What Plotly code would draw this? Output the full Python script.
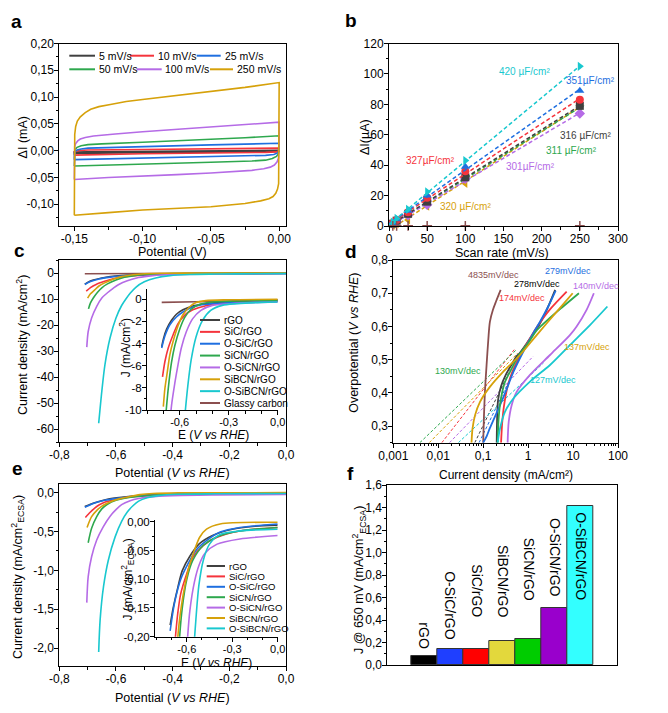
import numpy as np
import plotly.graph_objects as go

# page body margin shifts the figure by 8 px; figure is sized so the window shows it whole
OFF = 8
W, H = 660, 705
FONT = "Liberation Sans, Arial, sans-serif"

# ---------------- colours per material ----------------
materials = ["rGO", "SiC/rGO", "O-SiC/rGO", "SiCN/rGO", "O-SiCN/rGO", "SiBCN/rGO", "O-SiBCN/rGO", "Glassy carbon"]
mat_colors = ["#404040", "#f5343c", "#1f6fe0", "#2ea84e", "#b56be6", "#d6a10a", "#19c8cf", "#8b4f4f"]

# ---------------- panel a : CV loops ----------------
cv_labels = ["5 mV/s", "10 mV/s", "25 mV/s", "50 mV/s", "100 mV/s", "250 mV/s"]
cv_colors = ["#404040", "#f5343c", "#1f6fe0", "#2ea84e", "#b56be6", "#d6a10a"]
cv5_V = [-0.15, -0.15, -0.14, -0.10, -0.05, 0.0, 0.0, -0.01, -0.05, -0.10, -0.15]
cv5_I = [-0.0055, -0.003, -0.0025, -0.002, -0.001, 0.0005, -0.0015, -0.002, -0.003, -0.004, -0.0055]
cv10_V = [-0.15, -0.15, -0.146, -0.14, -0.10, -0.05, 0.0, 0.0, -0.002, -0.01, -0.05, -0.10, -0.15]
cv10_I = [-0.0085, -0.002, 0.0, 0.001, 0.002, 0.003, 0.0045, 0.0, -0.0025, -0.0035, -0.0045, -0.006, -0.0085]
cv25_V = [-0.15, -0.15, -0.148, -0.145, -0.14, -0.10, -0.05, 0.0, 0.0, -0.001, -0.004, -0.01, -0.05, -0.10, -0.15]
cv25_I = [-0.017, -0.003, 0.001, 0.003, 0.0045, 0.0075, 0.0105, 0.0135, 0.0, -0.0045, -0.0075, -0.009, -0.0115, -0.0145, -0.017]
cv50_V = [-0.15, -0.15, -0.1495, -0.148, -0.145, -0.14, -0.13, -0.10, -0.075, -0.05, -0.025, 0.0, 0.0,
          -0.0005, -0.002, -0.005, -0.01, -0.02, -0.05, -0.075, -0.10, -0.125, -0.15]
cv50_I = [-0.029, -0.005, 0.002, 0.006, 0.009, 0.011, 0.0125, 0.0155, 0.018, 0.0205, 0.024, 0.0275, 0.0,
          -0.006, -0.011, -0.015, -0.018, -0.0195, -0.022, -0.024, -0.026, -0.0275, -0.029]
cv100_V = [-0.15, -0.15, -0.1497, -0.149, -0.1475, -0.1456, -0.142, -0.136, -0.131, -0.12, -0.10, -0.075, -0.05,
           -0.025, 0.0, 0.0, 0.0, -0.0005, -0.0015, -0.0035, -0.0065, -0.0113, -0.02, -0.0333, -0.05, -0.075,
           -0.10, -0.125, -0.15]
cv100_I = [-0.054, 0.0, 0.008, 0.013, 0.018, 0.0215, 0.0245, 0.0272, 0.0287, 0.031, 0.035, 0.0395, 0.044,
           0.0485, 0.053, 0.02, -0.005, -0.014, -0.021, -0.027, -0.031, -0.034, -0.037, -0.0395, -0.042, -0.045,
           -0.0475, -0.0505, -0.054]
cv250_V = [-0.15, -0.15, -0.15, -0.1497, -0.149, -0.1478, -0.1456, -0.142, -0.138, -0.132, -0.1236, -0.112, -0.10,
           -0.075, -0.05, -0.025, 0.0, 0.0, 0.0, 0.0, -0.0004, -0.0012, -0.0025, -0.0045, -0.0075, -0.0136, -0.025,
           -0.05, -0.075, -0.10, -0.125, -0.15]
cv250_I = [-0.121, -0.06, 0.0, 0.03, 0.045, 0.055, 0.063, 0.071, 0.077, 0.082, 0.086, 0.0915, 0.0955, 0.103, 0.110,
           0.118, 0.127, 0.06, 0.0, -0.045, -0.062, -0.072, -0.080, -0.086, -0.090, -0.094, -0.099, -0.105, -0.108,
           -0.111, -0.116, -0.121]
cv_V = [cv5_V, cv10_V, cv25_V, cv50_V, cv100_V, cv250_V]
cv_I = [cv5_I, cv10_I, cv25_I, cv50_I, cv100_I, cv250_I]

# ---------------- panel b : double-layer capacitance ----------------
scan_rate = [5, 10, 25, 50, 100, 250]
dI_rGO = [1.5, 3.5, 8, 16, 32, 79]
dI_SiC = [2, 4, 9, 18.5, 36, 83]
dI_OSiC = [2, 4.5, 10, 20, 39, 89]
dI_SiCN = [1.5, 3, 7.5, 15, 31, 78]
dI_OSiCN = [1.5, 3, 7, 14, 31, 74]
dI_SiBCN = [0.5, 1.5, 4, 13, 28, 79]
dI_OSiBCN = [2.5, 5, 11, 22.5, 43, 105]
dI_GC = [0.1, 0.1, 0.1, 0.1, 0.1, 0.1]
b_series = [dI_rGO, dI_SiC, dI_OSiC, dI_SiCN, dI_OSiCN, dI_SiBCN, dI_OSiBCN, dI_GC]
b_symbols = ["square", "circle", "triangle-up", "triangle-down", "diamond", "triangle-left", "triangle-right", "cross-thin"]
cdl_labels = ["316 µF/cm²", "327µF/cm²", "351µF/cm²", "311 µF/cm²", "301µF/cm²", "320 µF/cm²", "420 µF/cm²"]

# ---------------- panel c : LSV (mA/cm2) ----------------
c_E = [
    [-0.71, -0.70, -0.68, -0.65, -0.62, -0.58, -0.52, -0.44, -0.32, -0.15, 0.0],
    [-0.705, -0.69, -0.67, -0.64, -0.61, -0.57, -0.52, -0.44, -0.31, -0.15, 0.0],
    [-0.71, -0.69, -0.66, -0.62, -0.58, -0.52, -0.44, -0.31, -0.15, 0.0],
    [-0.697, -0.69, -0.68, -0.665, -0.65, -0.63, -0.60, -0.57, -0.53, -0.48, -0.40, -0.2, 0.0],
    [-0.703, -0.698, -0.686, -0.668, -0.65, -0.63, -0.61, -0.59, -0.56, -0.52, -0.47, -0.40, -0.29, -0.15, 0.0],
    [-0.70, -0.69, -0.675, -0.66, -0.64, -0.61, -0.58, -0.54, -0.50, -0.44, -0.3, 0.0],
    [-0.661, -0.65, -0.639, -0.621, -0.60, -0.58, -0.565, -0.55, -0.53, -0.50, -0.46, -0.41, -0.34, -0.25, -0.1, 0.0],
    [-0.71, -0.5, -0.3, -0.1, 0.0],
]
c_J = [
    [-4.3, -3.6, -2.7, -1.9, -1.35, -0.95, -0.6, -0.4, -0.25, -0.15, -0.1],
    [-7.0, -5.6, -4.4, -3.2, -2.2, -1.45, -0.95, -0.58, -0.35, -0.25, -0.18],
    [-4.4, -3.3, -2.3, -1.6, -1.15, -0.7, -0.45, -0.33, -0.25, -0.2],
    [-13.8, -11.5, -9.6, -7.4, -5.7, -4.2, -2.7, -1.65, -0.9, -0.47, -0.25, -0.15, -0.12],
    [-28.5, -22.5, -17.3, -12.8, -9.6, -7.6, -5.9, -4.4, -2.96, -1.75, -1.0, -0.55, -0.4, -0.3, -0.25],
    [-9.7, -8.0, -6.5, -5.0, -3.8, -2.4, -1.4, -0.7, -0.3, -0.12, -0.05, 0.0],
    [-57.8, -45.5, -35.3, -25.0, -17.3, -12.5, -10.0, -7.8, -5.5, -3.4, -1.9, -1.0, -0.55, -0.4, -0.28, -0.25],
    [-0.28, -0.22, -0.15, -0.08, -0.05],
]

# ---------------- panel d : Tafel ----------------
d_j = [
    [0.20, 0.205, 0.215, 0.25, 0.32, 0.45, 0.55, 0.65, 1.0, 1.6, 2.5, 4.0],
    [0.25, 0.265, 0.29, 0.35, 0.45, 0.65, 1.0, 1.6, 3.0, 7.2],
    [0.10, 0.12, 0.14, 0.237, 0.33, 0.47, 0.93, 1.3, 1.84, 2.8, 4.1],
    [0.21, 0.22, 0.24, 0.30, 0.42, 0.6, 1.0, 1.6, 3.0, 6.0, 13.5],
    [0.35, 0.37, 0.43, 0.556, 1.1, 3.07, 8.5, 12.0, 20.0, 29.0],
    [0.055, 0.058, 0.066, 0.085, 0.141, 0.28, 0.66, 1.55, 4.3, 9.8],
    [0.21, 0.237, 0.305, 0.47, 1.1, 3.07, 8.5, 23.8, 58.0],
    [0.10, 0.104, 0.11, 0.119, 0.13, 0.141, 0.165, 0.193, 0.245],
]
d_eta = [
    [0.25, 0.33, 0.38, 0.42, 0.455, 0.49, 0.51, 0.52, 0.555, 0.595, 0.645, 0.71],
    [0.25, 0.31, 0.36, 0.42, 0.465, 0.51, 0.555, 0.60, 0.65, 0.705],
    [0.25, 0.27, 0.293, 0.363, 0.41, 0.463, 0.544, 0.58, 0.614, 0.66, 0.708],
    [0.25, 0.32, 0.37, 0.43, 0.47, 0.51, 0.55, 0.59, 0.625, 0.66, 0.70],
    [0.25, 0.313, 0.363, 0.403, 0.454, 0.514, 0.574, 0.60, 0.65, 0.70],
    [0.25, 0.293, 0.333, 0.373, 0.418, 0.464, 0.514, 0.574, 0.644, 0.70],
    [0.25, 0.293, 0.343, 0.383, 0.434, 0.484, 0.544, 0.604, 0.66],
    [0.25, 0.33, 0.41, 0.484, 0.56, 0.614, 0.65, 0.675, 0.71],
]
# Tafel fit lines (start current at 0.25 V, end current, end overpotential)
fit_j0 = [0.065, 0.012, 0.081, 0.0039, 0.0178, 0.0063, 0.028]
fit_j1 = [0.40, 0.49, 0.50, 0.55, 1.3, 0.59, 2.2]
fit_eta1 = [0.47, 0.53, 0.47, 0.53, 0.51, 0.52, 0.49]
tafel_labels = ["278mV/dec", "174mV/dec", "279mV/dec", "130mV/dec", "140mV/dec", "137mV/dec", "127mV/dec", "4835mV/dec"]

# ---------------- panel e : LSV normalised by ECSA ----------------
e_E = [
    [-0.71, -0.69, -0.66, -0.63, -0.58, -0.52, -0.43, -0.3, -0.15, 0.0],
    [-0.708, -0.69, -0.675, -0.66, -0.64, -0.60, -0.56, -0.49, -0.40, -0.25, 0.0],
    [-0.71, -0.68, -0.64, -0.59, -0.54, -0.47, -0.38, -0.25, 0.0],
    [-0.698, -0.686, -0.668, -0.65, -0.63, -0.60, -0.56, -0.49, -0.40, -0.25, 0.0],
    [-0.703, -0.698, -0.686, -0.668, -0.645, -0.62, -0.60, -0.58, -0.55, -0.52, -0.48, -0.40, -0.25, 0.0],
    [-0.702, -0.686, -0.665, -0.652, -0.635, -0.612, -0.585, -0.55, -0.515, -0.47, -0.38, 0.0],
    [-0.661, -0.656, -0.644, -0.627, -0.603, -0.58, -0.56, -0.54, -0.52, -0.49, -0.45, -0.38, -0.25, 0.0],
]
e_J = [
    [-0.18, -0.15, -0.115, -0.085, -0.06, -0.039, -0.024, -0.013, -0.008, -0.006],
    [-0.32, -0.25, -0.2, -0.16, -0.125, -0.09, -0.062, -0.041, -0.027, -0.016, -0.01],
    [-0.19, -0.14, -0.1, -0.072, -0.05, -0.033, -0.018, -0.01, -0.004],
    [-0.645, -0.46, -0.31, -0.21, -0.15, -0.1, -0.067, -0.041, -0.026, -0.016, -0.01],
    [-1.415, -1.08, -0.826, -0.61, -0.44, -0.3, -0.22, -0.155, -0.105, -0.076, -0.055, -0.039, -0.03, -0.024],
    [-0.45, -0.31, -0.22, -0.18, -0.145, -0.11, -0.078, -0.05, -0.027, -0.013, -0.004, -0.001],
    [-2.05, -1.64, -1.21, -0.87, -0.57, -0.37, -0.25, -0.17, -0.11, -0.066, -0.039, -0.022, -0.016, -0.013],
]

# ---------------- panel f : bars ----------------
f_labels = ["rGO", "O-SiC/rGO", "SiC/rGO", "SiBCN/rGO", "SiCN/rGO", "O-SiCN/rGO", "O-SiBCN/rGO"]
f_values = [0.083, 0.142, 0.145, 0.213, 0.228, 0.509, 1.416]
f_colors = ["#000000", "#1f3fff", "#ff0000", "#e3d83c", "#00cc00", "#9900cc", "#33ffff"]


# =====================================================================
def X(px):
    return (px - OFF) / W


def Y(py):
    return 1 - (py - OFF) / H


def fmt(v, dec):
    s = f"{v:.{dec}f}".replace(".", ",")
    if s.startswith("-") and float(v) == 0:
        s = s[1:]
    return s


def ticks(lo, hi, step, dec):
    vals = np.round(np.arange(lo, hi + step / 2, step), 6)
    return list(vals), [fmt(v, dec) for v in vals]


fig = go.Figure()

# panel a
for lab, col, vv, ii in zip(cv_labels, cv_colors, cv_V, cv_I):
    fig.add_trace(go.Scatter(x=vv, y=ii, mode="lines", line=dict(color=col, width=1.6),
                             name=lab, showlegend=False, xaxis="x", yaxis="y"))

# panel b
order_b = [5, 3, 4, 0, 1, 2, 6, 7]
for k in order_b:
    ys = b_series[k]
    col = mat_colors[k]
    if k < 7:
        slope, icpt = np.polyfit(scan_rate, ys, 1)
        xf = np.array([min(scan_rate) - 5, max(scan_rate)])
        fig.add_trace(go.Scatter(x=xf, y=slope * xf + icpt, mode="lines",
                                 line=dict(color=col, width=1.5, dash="4px,2.5px"),
                                 showlegend=False, xaxis="x2", yaxis="y2"))
    sym = b_symbols[k]
    mk = dict(symbol=sym, size=8, color=col)
    if sym == "cross-thin":
        mk = dict(symbol=sym, size=7, color=col, line=dict(color=col, width=1.5))
    fig.add_trace(go.Scatter(x=scan_rate, y=ys, mode="markers", marker=mk, name=materials[k],
                             showlegend=False, xaxis="x2", yaxis="y2", cliponaxis=False))

# panel c + inset
for axs in [("x3", "y3"), ("x4", "y4")]:
    for k in [7, 0, 1, 2, 3, 4, 5, 6]:
        fig.add_trace(go.Scatter(x=c_E[k], y=c_J[k], mode="lines",
                                 line=dict(color=mat_colors[k], width=1.6, shape="spline", smoothing=0.8),
                                 name=materials[k], showlegend=False, xaxis=axs[0], yaxis=axs[1]))

# panel d
for k in range(7):
    fig.add_trace(go.Scatter(x=[fit_j0[k], fit_j1[k]], y=[0.25, fit_eta1[k]], mode="lines",
                             line=dict(color=mat_colors[k], width=1, dash="3px,2px"),
                             showlegend=False, xaxis="x5", yaxis="y5"))
for k in [7, 0, 1, 2, 3, 4, 5, 6]:
    fig.add_trace(go.Scatter(x=d_j[k], y=d_eta[k], mode="lines",
                             line=dict(color=mat_colors[k], width=1.8, shape="spline", smoothing=0.8),
                             name=materials[k], showlegend=False, xaxis="x5", yaxis="y5"))

# panel e + inset
for axs in [("x6", "y6"), ("x7", "y7")]:
    for k in range(7):
        fig.add_trace(go.Scatter(x=e_E[k], y=e_J[k], mode="lines",
                                 line=dict(color=mat_colors[k], width=1.6, shape="spline", smoothing=0.8),
                                 name=materials[k], showlegend=False, xaxis=axs[0], yaxis=axs[1]))

# panel f
fig.add_trace(go.Bar(x=list(range(len(f_values))), y=f_values, width=1,
                     marker=dict(color=f_colors, line=dict(color="#333333", width=1)),
                     showlegend=False, xaxis="x8", yaxis="y8"))

# ---------------- axes ----------------
def axis(dom, rng, tv=None, tt=None, minor_step=None, mirror=True, tickfont=12, **kw):
    d = dict(domain=dom, range=rng, showline=True, linecolor="black", linewidth=1, mirror=mirror,
             ticks="outside", ticklen=4, tickwidth=1, tickcolor="black", showgrid=False, zeroline=False,
             automargin=False, ticklabelstandoff=-2,
             tickfont=dict(size=tickfont, color="black", family=FONT))
    if tv is not None:
        d.update(tickmode="array", tickvals=tv, ticktext=tt)
    if minor_step is not None:
        lo = np.ceil(rng[0] / minor_step - 1e-9) * minor_step
        mv = list(np.round(np.arange(lo, rng[1] + 1e-9, minor_step), 6))
        d["minor"] = dict(tickmode="array", tickvals=mv, ticks="outside", ticklen=2.5, tickcolor="black")
    d.update(kw)
    return d


lay = {}
# a
tv, tt = ticks(-0.15, 0.0, 0.05, 2)
lay["xaxis"] = axis([X(59.3), X(286)], [-0.161, 0.005], tv, tt, 0.025, anchor="y")
tv, tt = ticks(-0.10, 0.20, 0.05, 2)
lay["yaxis"] = axis([Y(226), Y(43.5)], [-0.141, 0.20], tv, tt, 0.025, anchor="x")
# b
tv, tt = ticks(0, 300, 50, 0)
lay["xaxis2"] = axis([X(389), X(618)], [0, 300], tv, tt, 25, anchor="y2")
tv, tt = ticks(0, 120, 20, 0)
lay["yaxis2"] = axis([Y(226), Y(43.5)], [0, 120], tv, tt, 10, anchor="x2")
# c
tv, tt = ticks(-0.8, 0.0, 0.2, 1)
lay["xaxis3"] = axis([X(59.3), X(286)], [-0.8, 0.0], tv, tt, 0.1, anchor="y3")
tv, tt = ticks(-60, 0, 10, 0)
lay["yaxis3"] = axis([Y(442), Y(260)], [-65, 5], tv, tt, 5, anchor="x3")
# c inset
tv, tt = ticks(-0.6, 0.0, 0.3, 1)
lay["xaxis4"] = axis([X(147), X(277.7)], [-0.8, 0.0], tv, tt, 0.1, mirror=False, tickfont=11, anchor="y4")
tv, tt = ticks(-10, 0, 2, 0)
lay["yaxis4"] = axis([Y(410), Y(289.3)], [-10, 0.9], tv, tt, 1, mirror=False, tickfont=11.5, anchor="x4")
# d
dvals = [0.001, 0.01, 0.1, 1, 10, 100]
dtext = ["0,001", "0,01", "0,1", "1", "10", "100"]
dminor = [m * 10.0 ** e for e in range(-3, 2) for m in range(2, 10)]
lay["xaxis5"] = dict(domain=[X(393.3), X(618)], type="log", range=[-3, 2], showline=True, linecolor="black",
                     linewidth=1, mirror=True, ticks="outside", ticklen=4, tickcolor="black", showgrid=False,
                     zeroline=False, tickmode="array", tickvals=dvals, ticktext=dtext, automargin=False,
                     ticklabelstandoff=-2, tickfont=dict(size=12, color="black", family=FONT),
                     minor=dict(tickmode="array", tickvals=dminor, ticks="outside", ticklen=2.5, tickcolor="black"),
                     anchor="y5")
tv, tt = ticks(0.3, 0.8, 0.1, 1)
lay["yaxis5"] = axis([Y(442.7), Y(260)], [0.25, 0.8], tv, tt, 0.05, anchor="x5")
# e
tv, tt = ticks(-0.8, 0.0, 0.2, 1)
lay["xaxis6"] = axis([X(59.3), X(286)], [-0.8, 0.0], tv, tt, 0.1, anchor="y6")
tv, tt = ticks(-2.0, 0.0, 0.5, 1)
lay["yaxis6"] = axis([Y(666), Y(484)], [-2.23, 0.11], tv, tt, 0.25, anchor="x6")
# e inset
tv, tt = ticks(-0.6, 0.0, 0.3, 1)
lay["xaxis7"] = axis([X(155), X(277.7)], [-0.81, 0.0], tv, tt, 0.1, mirror=False, tickfont=11, anchor="y7")
tv, tt = ticks(-0.20, 0.0, 0.05, 2)
lay["yaxis7"] = axis([Y(636.7), Y(520)], [-0.2, 0.003], tv, tt, 0.025, mirror=False, tickfont=11.5, anchor="x7")
# f
lay["xaxis8"] = dict(domain=[X(387.3), X(617.3)], range=[-1.4, 7.4], showline=True, linecolor="black",
                     linewidth=1, mirror=True, ticks="", showticklabels=False, showgrid=False, zeroline=False,
                     automargin=False, anchor="y8")
tv, tt = ticks(0.0, 1.6, 0.2, 1)
lay["yaxis8"] = axis([Y(665), Y(485)], [0, 1.6], tv, tt, 0.1, anchor="x8")

# ---------------- annotations ----------------
ann = []


def txt(text, px, py, size=12.5, angle=0, color="black", bold=False, xanchor="center", yanchor="middle"):
    ann.append(dict(text=f"<b>{text}</b>" if bold else text, x=X(px), y=Y(py), xref="paper", yref="paper",
                    showarrow=False, textangle=angle, xanchor=xanchor, yanchor=yanchor,
                    font=dict(size=size, color=color, family=FONT)))


# panel letters
for lt, px, py in [("a", 16.7, 21.7), ("b", 350.7, 20.7), ("c", 19.3, 250.7), ("d", 351.3, 251.7),
                   ("e", 17.3, 468.3), ("f", 350.7, 473.3)]:
    txt(lt, px, py, size=19, bold=True)

# axis titles
txt("Potential (V)", 172.7, 252)
txt("ΔI (mA)", 22.7, 137.7, angle=-90)
txt("Scan rate (mV/s)", 502.3, 253)
txt("ΔI(µA)", 364.3, 136.7, angle=-90)
txt("Potential (<i>V vs RHE</i>)", 172.7, 473.3)
txt("Current density (mA/cm<sup>2</sup>)", 22, 345, angle=-90)
txt("E (<i>V vs RHE</i>)", 213.3, 435, size=12)
txt("J (mA/cm<sup>2</sup>)", 125, 348.3, size=12, angle=-90)
txt("Current density (mA/cm²)", 505.7, 474.5, size=12)
txt("Overpotential (<i>V vs RHE</i>)", 354.5, 343.3, angle=-90)
txt("Potential (<i>V vs RHE</i>)", 172.7, 697.5)
txt("Current density (mA/cm<sup>2</sup><sub>ECSA</sub>)", 17.3, 576.7, angle=-90)
txt("E (<i>V vs RHE</i>)", 216.7, 662.5, size=12)
txt("J (mA/cm<sup>2</sup><sub>ECSA</sub>)", 127.5, 580, size=12, angle=-90)
txt("J @ 650 mV (mA/cm<sup>2</sup><sub>ECSA</sub>)", 359, 580, size=12.5, angle=-90)

shapes = []


def legend_item(label, color, x0, x1, tx, py, size):
    shapes.append(dict(type="line", xref="paper", yref="paper", x0=X(x0), x1=X(x1), y0=Y(py), y1=Y(py),
                       line=dict(color=color, width=2)))
    txt(label, tx, py, size=size, xanchor="left")


# legend a (two rows)
leg_a = [(69.3, 95, 96.7, 55.7), (130, 154, 155.7, 55.7), (196.7, 220.7, 222.7, 55.7),
         (69.3, 95, 96.7, 69.3), (136.7, 161.7, 163.3, 69.3), (210, 233, 235, 69.3)]
for lab, col, (x0, x1, tx, py) in zip(cv_labels, cv_colors, leg_a):
    legend_item(lab, col, x0, x1, tx, py, 10.5)

# legend c inset
for i, (lab, col) in enumerate(zip(materials, mat_colors)):
    legend_item(lab, col, 200, 220, 221.7, 320 + i * 11.86, 10)

# legend e inset
for i, (lab, col) in enumerate(zip(materials[:7], mat_colors[:7])):
    legend_item(lab, col, 206.7, 225, 226.7, 566 + i * 10.4, 9.5)

# panel b capacitance labels
b_label_pos = [(257.6, 59.2), (54.6, 43.4), (264, 96), (238.9, 49.6), (185.6, 39), (100.4, 12.7), (177.7, 101.6)]
for k, (lab, (bx, by)) in enumerate(zip(cdl_labels, b_label_pos)):
    ann.append(dict(text=lab, x=bx, y=by, xref="x2", yref="y2", showarrow=False,
                    font=dict(size=10, color=mat_colors[k], family=FONT)))

# panel d Tafel labels
d_label_pos = [(1.6, 0.727), (0.74, 0.685), (7.85, 0.767), (0.028, 0.466), (31.8, 0.722), (20.8, 0.537),
               (3.52, 0.439), (0.168, 0.755)]
for k, (lab, (dx, dy)) in enumerate(zip(tafel_labels, d_label_pos)):
    col = "#000000" if k == 0 else mat_colors[k]
    ann.append(dict(text=lab, x=np.log10(dx), y=dy, xref="x5", yref="y5", showarrow=False,
                    font=dict(size=9, color=col, family=FONT)))

# panel f bar labels (rotated)
f_label_y = [0.118, 0.207, 0.409, 0.406, 0.554, 0.587, 1.378]
for i, (lab, ly) in enumerate(zip(f_labels, f_label_y)):
    ann.append(dict(text=lab, x=i, y=ly, xref="x8", yref="y8", showarrow=False, textangle=90,
                    xanchor="center", yanchor="top" if i == len(f_labels) - 1 else "bottom",
                    font=dict(size=14, color="black", family=FONT)))

fig.update_layout(
    width=W, height=H, margin=dict(l=0, r=0, t=0, b=0, pad=0, autoexpand=False),
    paper_bgcolor="white", plot_bgcolor="rgba(0,0,0,0)",
    font=dict(family=FONT, color="black"),
    bargap=0, showlegend=False,
    annotations=ann, shapes=shapes, **lay,
)

fig.write_html("out.html")
